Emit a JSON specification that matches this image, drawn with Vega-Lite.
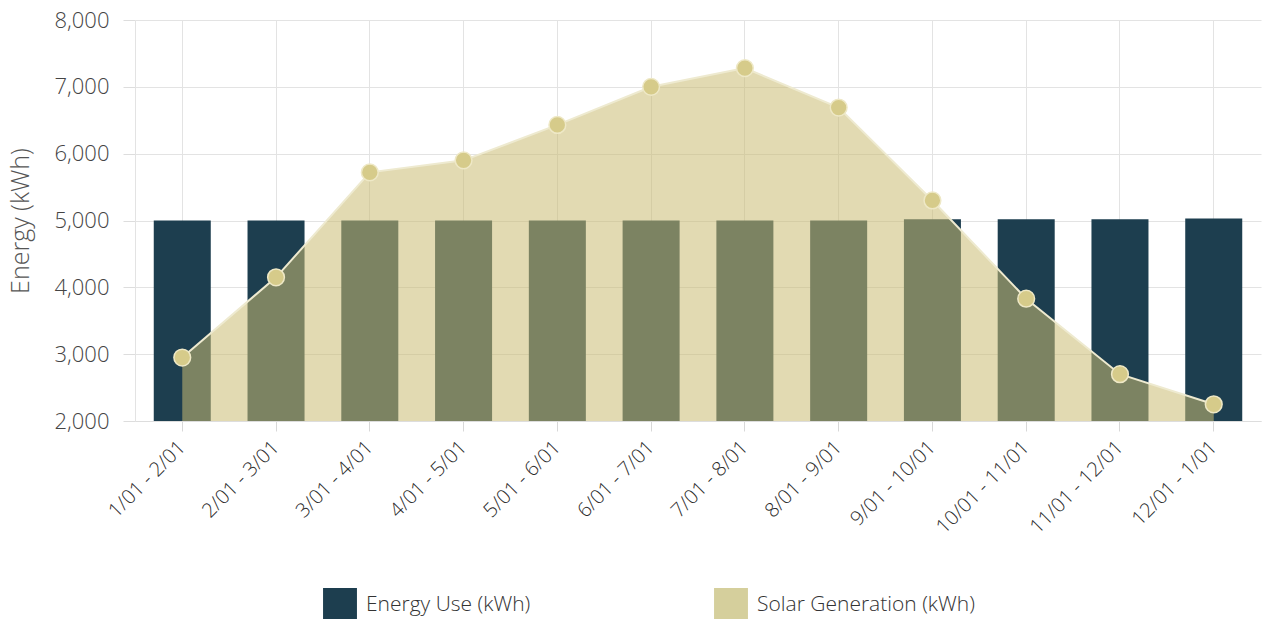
{
  "$schema": "https://vega.github.io/schema/vega-lite/v6.json",
  "width": 1126,
  "height": 401,
  "autosize": {"type": "none"},
  "padding": {"left": 135, "top": 20, "right": 1, "bottom": 198},
  "background": "white",
  "config": {
    "font": "Open Sans",
    "view": {"stroke": null}
  },
  "data": {
    "values": [
      {"period": "1/01 - 2/01", "series": "Energy Use (kWh)", "kwh": 5000},
      {"period": "2/01 - 3/01", "series": "Energy Use (kWh)", "kwh": 5000},
      {"period": "3/01 - 4/01", "series": "Energy Use (kWh)", "kwh": 5000},
      {"period": "4/01 - 5/01", "series": "Energy Use (kWh)", "kwh": 5000},
      {"period": "5/01 - 6/01", "series": "Energy Use (kWh)", "kwh": 5000},
      {"period": "6/01 - 7/01", "series": "Energy Use (kWh)", "kwh": 5000},
      {"period": "7/01 - 8/01", "series": "Energy Use (kWh)", "kwh": 5000},
      {"period": "8/01 - 9/01", "series": "Energy Use (kWh)", "kwh": 5000},
      {"period": "9/01 - 10/01", "series": "Energy Use (kWh)", "kwh": 5020},
      {"period": "10/01 - 11/01", "series": "Energy Use (kWh)", "kwh": 5020},
      {"period": "11/01 - 12/01", "series": "Energy Use (kWh)", "kwh": 5020},
      {"period": "12/01 - 1/01", "series": "Energy Use (kWh)", "kwh": 5030},
      {"period": "1/01 - 2/01", "series": "Solar Generation (kWh)", "kwh": 2950},
      {"period": "2/01 - 3/01", "series": "Solar Generation (kWh)", "kwh": 4150},
      {"period": "3/01 - 4/01", "series": "Solar Generation (kWh)", "kwh": 5720},
      {"period": "4/01 - 5/01", "series": "Solar Generation (kWh)", "kwh": 5900},
      {"period": "5/01 - 6/01", "series": "Solar Generation (kWh)", "kwh": 6430},
      {"period": "6/01 - 7/01", "series": "Solar Generation (kWh)", "kwh": 7000},
      {"period": "7/01 - 8/01", "series": "Solar Generation (kWh)", "kwh": 7280},
      {"period": "8/01 - 9/01", "series": "Solar Generation (kWh)", "kwh": 6690},
      {"period": "9/01 - 10/01", "series": "Solar Generation (kWh)", "kwh": 5300},
      {"period": "10/01 - 11/01", "series": "Solar Generation (kWh)", "kwh": 3830},
      {"period": "11/01 - 12/01", "series": "Solar Generation (kWh)", "kwh": 2700},
      {"period": "12/01 - 1/01", "series": "Solar Generation (kWh)", "kwh": 2250}
    ]
  },
  "encoding": {
    "x": {
      "field": "period",
      "type": "nominal",
      "sort": null,
      "scale": {"paddingInner": 0.392, "paddingOuter": 0.2},
      "axis": {
        "title": null,
        "labelAngle": -45,
        "labelAlign": "right",
        "labelBaseline": "middle",
        "labelFontSize": 20,
        "labelFontWeight": 300,
        "labelColor": "#2a2a2a",
        "labelPadding": 13,
        "tickSize": 10,
        "tickColor": "#d8d8d8",
        "domainColor": "#dddddd",
        "grid": true,
        "gridColor": "#e3e3e3"
      }
    },
    "y": {
      "field": "kwh",
      "type": "quantitative",
      "scale": {"domain": [2000, 8000], "zero": false, "nice": false},
      "axis": {
        "title": "Energy (kWh)",
        "titleFontSize": 25,
        "titleFontWeight": 300,
        "titleColor": "#555555",
        "titlePadding": 21,
        "values": [2000, 3000, 4000, 5000, 6000, 7000, 8000],
        "format": ",.0f",
        "labelFontSize": 22,
        "labelFontWeight": 300,
        "labelColor": "#444444",
        "labelPadding": 14,
        "tickSize": 12,
        "tickColor": "#dddddd",
        "domainColor": "#e3e3e3",
        "gridColor": "#e3e3e3"
      }
    }
  },
  "layer": [
    {
      "transform": [{"filter": "datum.series === 'Energy Use (kWh)'"}],
      "mark": {"type": "bar", "clip": true},
      "encoding": {
        "color": {
          "field": "series",
          "type": "nominal",
          "scale": {
            "domain": ["Energy Use (kWh)", "Solar Generation (kWh)"],
            "range": ["#1d3e4f", "#d5cf9c"]
          },
          "legend": {
            "title": null,
            "orient": "none",
            "legendX": 188,
            "legendY": 568,
            "direction": "horizontal",
            "columns": 2,
            "columnPadding": 183,
            "symbolType": "square",
            "symbolSize": 1150,
            "symbolStrokeWidth": 0,
            "symbolOpacity": 1,
            "labelFontSize": 21,
            "labelFontWeight": 300,
            "labelColor": "#333333",
            "labelOffset": 9,
            "labelLimit": 400
          }
        }
      }
    },
    {
      "transform": [{"filter": "datum.series === 'Solar Generation (kWh)'"}],
      "mark": {"type": "area", "clip": true, "interpolate": "linear", "color": "#cabc72", "opacity": 0.55}
    },
    {
      "transform": [{"filter": "datum.series === 'Solar Generation (kWh)'"}],
      "mark": {"type": "line", "interpolate": "linear", "color": "#eeead0", "strokeWidth": 2}
    },
    {
      "transform": [{"filter": "datum.series === 'Solar Generation (kWh)'"}],
      "mark": {"type": "point", "filled": true, "size": 280, "fill": "#d6cb8a", "stroke": "#eee8c6", "strokeWidth": 1.5, "opacity": 1}
    }
  ]
}
